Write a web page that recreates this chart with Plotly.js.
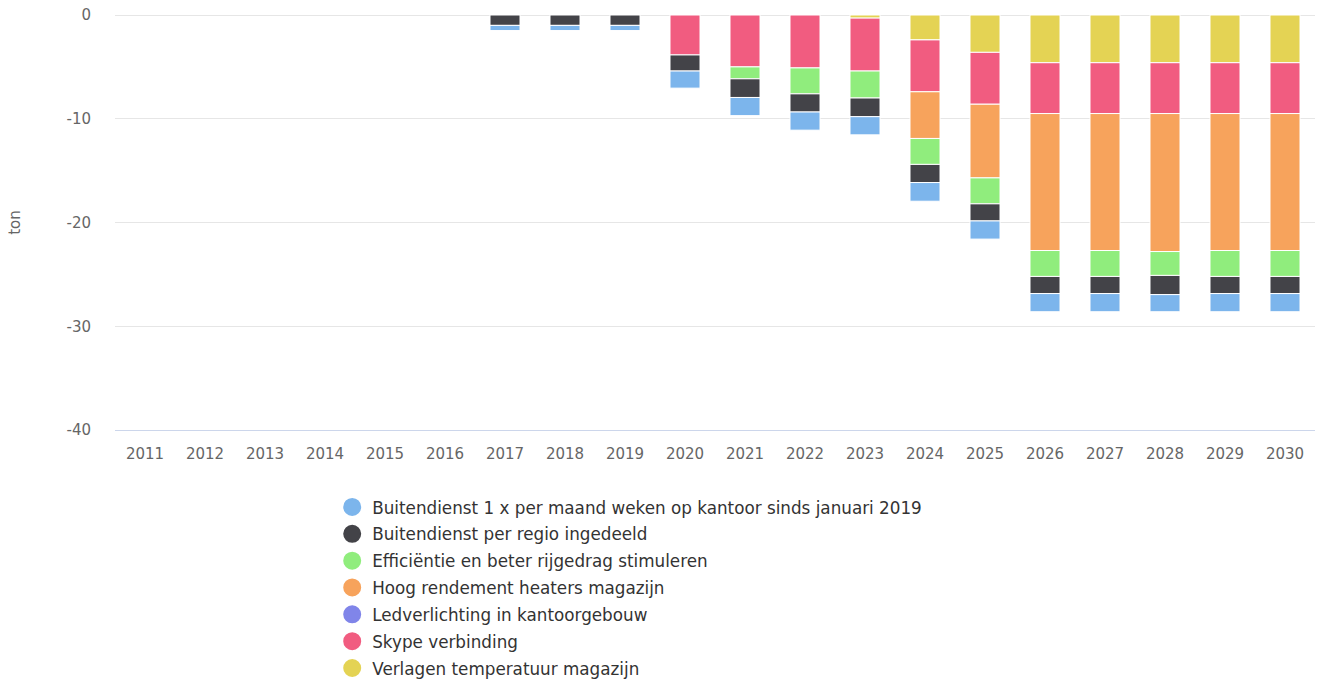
<!DOCTYPE html>
<html>
<head>
<meta charset="utf-8">
<script src="https://cdn.plot.ly/plotly-3.0.1.min.js"></script>
<style>
  html, body { margin: 0; padding: 0; background: #ffffff; }
  #chart { width: 1318px; height: 686px; }
</style>
</head>
<body>
<div id="chart"></div>
<script>
// Categories (years)
const years = ['2011','2012','2013','2014','2015','2016','2017','2018','2019','2020',
               '2021','2022','2023','2024','2025','2026','2027','2028','2029','2030'];

// Series values (ton, reduction shown as negative)
const buitendienstMaand = [0,0,0,0,0,0,-0.5,-0.5,-0.5,-1.65,-1.75,-1.75,-1.75,-1.8,-1.75,-1.75,-1.75,-1.65,-1.75,-1.75];
const buitendienstRegio = [0,0,0,0,0,0,-1.0,-1.0,-1.0,-1.55,-1.8,-1.75,-1.8,-1.75,-1.65,-1.65,-1.65,-1.85,-1.65,-1.65];
const efficientie       = [0,0,0,0,0,0,0,0,0,0,-1.15,-2.5,-2.6,-2.5,-2.5,-2.5,-2.5,-2.3,-2.5,-2.5];
const hoogRendement     = [0,0,0,0,0,0,0,0,0,0,0,0,0,-4.5,-7.1,-13.2,-13.2,-13.3,-13.2,-13.2];
const ledverlichting    = [0,0,0,0,0,0,0,0,0,0,0,0,0,0,0,0,0,0,0,0];
const skype             = [0,0,0,0,0,0,0,0,0,-3.85,-5.0,-5.1,-5.1,-5.0,-5.0,-4.9,-4.9,-4.9,-4.9,-4.9];
const verlagenTemp      = [0,0,0,0,0,0,0,0,0,0,0,0,-0.3,-2.4,-3.6,-4.6,-4.6,-4.6,-4.6,-4.6];

// Y-axis tick labels
const yTickVals = [-40, -30, -20, -10, 0];
const yTickText = ['-40', '-30', '-20', '-10', '0'];

const seriesNames = [
  'Buitendienst 1 x per maand weken op kantoor sinds januari 2019',
  'Buitendienst per regio ingedeeld',
  'Efficiëntie en beter rijgedrag stimuleren',
  'Hoog rendement heaters magazijn',
  'Ledverlichting in kantoorgebouw',
  'Skype verbinding',
  'Verlagen temperatuur magazijn'
];
const seriesValues = [buitendienstMaand, buitendienstRegio, efficientie, hoogRendement, ledverlichting, skype, verlagenTemp];
const seriesColors = ['#7cb5ec', '#434348', '#90ed7d', '#f7a35c', '#8085e9', '#f15c80', '#e4d354'];

const traces = [];
// Bars: stacking order from zero downward is reverse of legend order
for (let i = seriesNames.length - 1; i >= 0; i--) {
  const vals = seriesValues[i];
  traces.push({
    type: 'bar',
    name: seriesNames[i],
    x: years,
    y: vals,
    legendgroup: 'g' + i,
    showlegend: false,
    width: 0.5,
    marker: {
      color: seriesColors[i],
      line: { color: '#ffffff', width: vals.map(v => (v === 0 ? 0 : 1)) }
    },
    hoverinfo: 'x+y+name'
  });
}
// Legend entries with round symbols
for (let i = 0; i < seriesNames.length; i++) {
  traces.push({
    type: 'scatter',
    mode: 'markers',
    name: seriesNames[i],
    x: [null],
    y: [null],
    legendgroup: 'g' + i,
    showlegend: true,
    marker: { color: seriesColors[i], size: 16, symbol: 'circle', line: { color: seriesColors[i], width: 2 } },
    hoverinfo: 'skip'
  });
}

const layout = {
  width: 1318,
  height: 686,
  paper_bgcolor: '#ffffff',
  plot_bgcolor: '#ffffff',
  barmode: 'relative',
  margin: { l: 115, r: 3, t: 15, b: 256, autoexpand: false },
  font: { family: 'DejaVu Sans, Verdana, sans-serif', color: '#666666', size: 15 },
  xaxis: {
    type: 'category',
    showgrid: false,
    showline: true,
    linecolor: '#ccd6eb',
    linewidth: 1,
    ticks: '',
    ticklabelstandoff: 10,
    tickfont: { size: 15, color: '#666666' },
    fixedrange: true
  },
  yaxis: {
    range: [-40, 0],
    tickmode: 'array',
    tickvals: yTickVals,
    ticktext: yTickText,
    showgrid: true,
    gridcolor: '#e6e6e6',
    zeroline: true,
    zerolinecolor: '#e6e6e6',
    zerolinewidth: 1,
    showline: false,
    ticks: '',
    ticklabelstandoff: 23,
    tickfont: { size: 15, color: '#666666' },
    title: { text: 'ton', font: { size: 15, color: '#666666' }, standoff: 42 },
    fixedrange: true
  },
  showlegend: true,
  legend: {
    orientation: 'v',
    x: 0.181,
    xanchor: 'left',
    yref: 'container',
    y: 0.2864,
    yanchor: 'top',
    traceorder: 'grouped',
    tracegroupgap: 2,
    font: { size: 16.8, color: '#333333' },
    bgcolor: 'rgba(0,0,0,0)'
  }
};

Plotly.newPlot('chart', traces, layout, { displayModeBar: false, staticPlot: true });
</script>
</body>
</html>
